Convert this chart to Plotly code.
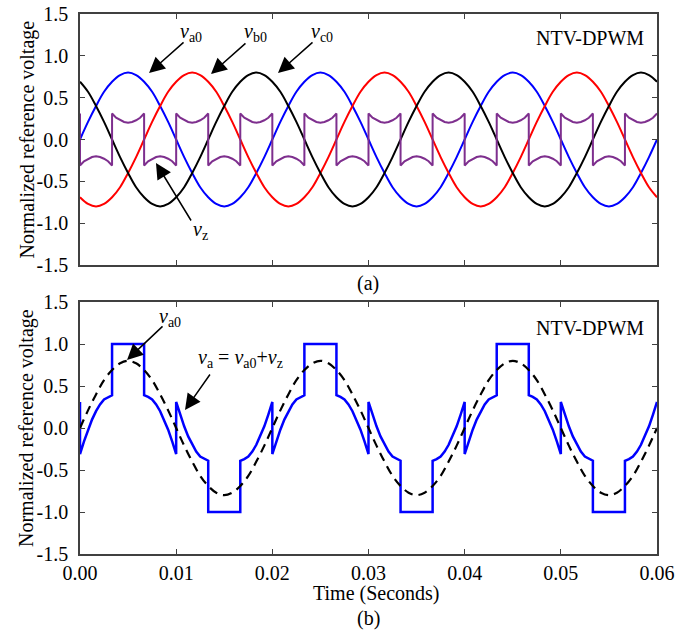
import numpy as np
import plotly.graph_objects as go

# ---------------- data ----------------
# sampling grids (s): sines sampled every 15 deg, clamp segments every 7.5 deg
t_sine = np.linspace(0.0, 0.06, 73)
t_fine = np.linspace(0.0, 0.06, 145)

va0 = [0, 0.21, 0.40, 0.57, 0.69, 0.77, 0.80, 0.77, 0.69, 0.57, 0.40, 0.21,
       0, -0.21, -0.40, -0.57, -0.69, -0.77, -0.80, -0.77, -0.69, -0.57, -0.40, -0.21,
       0, 0.21, 0.40, 0.57, 0.69, 0.77, 0.80, 0.77, 0.69, 0.57, 0.40, 0.21,
       0, -0.21, -0.40, -0.57, -0.69, -0.77, -0.80, -0.77, -0.69, -0.57, -0.40, -0.21,
       0, 0.21, 0.40, 0.57, 0.69, 0.77, 0.80, 0.77, 0.69, 0.57, 0.40, 0.21,
       0, -0.21, -0.40, -0.57, -0.69, -0.77, -0.80, -0.77, -0.69, -0.57, -0.40, -0.21,
       0]
vb0 = [-0.69, -0.77, -0.80, -0.77, -0.69, -0.57, -0.40, -0.21, 0, 0.21, 0.40, 0.57,
       0.69, 0.77, 0.80, 0.77, 0.69, 0.57, 0.40, 0.21, 0, -0.21, -0.40, -0.57,
       -0.69, -0.77, -0.80, -0.77, -0.69, -0.57, -0.40, -0.21, 0, 0.21, 0.40, 0.57,
       0.69, 0.77, 0.80, 0.77, 0.69, 0.57, 0.40, 0.21, 0, -0.21, -0.40, -0.57,
       -0.69, -0.77, -0.80, -0.77, -0.69, -0.57, -0.40, -0.21, 0, 0.21, 0.40, 0.57,
       0.69, 0.77, 0.80, 0.77, 0.69, 0.57, 0.40, 0.21, 0, -0.21, -0.40, -0.57,
       -0.69]
vc0 = [0.69, 0.57, 0.40, 0.21, 0, -0.21, -0.40, -0.57, -0.69, -0.77, -0.80, -0.77,
       -0.69, -0.57, -0.40, -0.21, 0, 0.21, 0.40, 0.57, 0.69, 0.77, 0.80, 0.77,
       0.69, 0.57, 0.40, 0.21, 0, -0.21, -0.40, -0.57, -0.69, -0.77, -0.80, -0.77,
       -0.69, -0.57, -0.40, -0.21, 0, 0.21, 0.40, 0.57, 0.69, 0.77, 0.80, 0.77,
       0.69, 0.57, 0.40, 0.21, 0, -0.21, -0.40, -0.57, -0.69, -0.77, -0.80, -0.77,
       -0.69, -0.57, -0.40, -0.21, 0, 0.21, 0.40, 0.57, 0.69, 0.77, 0.80, 0.77,
       0.69]

# zero-sequence voltage v_z, one list per 60-degree sector (value just before t=0 first)
vz_before = 0.31
vz_sectors = [
    [-0.31, -0.26, -0.23, -0.21, -0.20, -0.21, -0.23, -0.26, -0.31],
    [0.31, 0.26, 0.23, 0.21, 0.20, 0.21, 0.23, 0.26, 0.31],
    [-0.31, -0.26, -0.23, -0.21, -0.20, -0.21, -0.23, -0.26, -0.31],
    [0.31, 0.26, 0.23, 0.21, 0.20, 0.21, 0.23, 0.26, 0.31],
    [-0.31, -0.26, -0.23, -0.21, -0.20, -0.21, -0.23, -0.26, -0.31],
    [0.31, 0.26, 0.23, 0.21, 0.20, 0.21, 0.23, 0.26, 0.31],
    [-0.31, -0.26, -0.23, -0.21, -0.20, -0.21, -0.23, -0.26, -0.31],
    [0.31, 0.26, 0.23, 0.21, 0.20, 0.21, 0.23, 0.26, 0.31],
    [-0.31, -0.26, -0.23, -0.21, -0.20, -0.21, -0.23, -0.26, -0.31],
    [0.31, 0.26, 0.23, 0.21, 0.20, 0.21, 0.23, 0.26, 0.31],
    [-0.31, -0.26, -0.23, -0.21, -0.20, -0.21, -0.23, -0.26, -0.31],
    [0.31, 0.26, 0.23, 0.21, 0.20, 0.21, 0.23, 0.26, 0.31],
    [-0.31, -0.26, -0.23, -0.21, -0.20, -0.21, -0.23, -0.26, -0.31],
    [0.31, 0.26, 0.23, 0.21, 0.20, 0.21, 0.23, 0.26, 0.31],
    [-0.31, -0.26, -0.23, -0.21, -0.20, -0.21, -0.23, -0.26, -0.31],
    [0.31, 0.26, 0.23, 0.21, 0.20, 0.21, 0.23, 0.26, 0.31],
    [-0.31, -0.26, -0.23, -0.21, -0.20, -0.21, -0.23, -0.26, -0.31],
    [0.31, 0.26, 0.23, 0.21, 0.20, 0.21, 0.23, 0.26, 0.31],
]

# modulating wave v_a = v_a0 + v_z, one list per 60-degree sector
va_before = 0.31
va_sectors = [
    [-0.31, -0.16, -0.02, 0.10, 0.20, 0.28, 0.34, 0.37, 0.39],
    [1.0, 1.0, 1.0, 1.0, 1.0, 1.0, 1.0, 1.0, 1.0],
    [0.39, 0.37, 0.34, 0.28, 0.20, 0.10, -0.02, -0.16, -0.31],
    [0.31, 0.16, 0.02, -0.10, -0.20, -0.28, -0.34, -0.37, -0.39],
    [-1.0, -1.0, -1.0, -1.0, -1.0, -1.0, -1.0, -1.0, -1.0],
    [-0.39, -0.37, -0.34, -0.28, -0.20, -0.10, 0.02, 0.16, 0.31],
    [-0.31, -0.16, -0.02, 0.10, 0.20, 0.28, 0.34, 0.37, 0.39],
    [1.0, 1.0, 1.0, 1.0, 1.0, 1.0, 1.0, 1.0, 1.0],
    [0.39, 0.37, 0.34, 0.28, 0.20, 0.10, -0.02, -0.16, -0.31],
    [0.31, 0.16, 0.02, -0.10, -0.20, -0.28, -0.34, -0.37, -0.39],
    [-1.0, -1.0, -1.0, -1.0, -1.0, -1.0, -1.0, -1.0, -1.0],
    [-0.39, -0.37, -0.34, -0.28, -0.20, -0.10, 0.02, 0.16, 0.31],
    [-0.31, -0.16, -0.02, 0.10, 0.20, 0.28, 0.34, 0.37, 0.39],
    [1.0, 1.0, 1.0, 1.0, 1.0, 1.0, 1.0, 1.0, 1.0],
    [0.39, 0.37, 0.34, 0.28, 0.20, 0.10, -0.02, -0.16, -0.31],
    [0.31, 0.16, 0.02, -0.10, -0.20, -0.28, -0.34, -0.37, -0.39],
    [-1.0, -1.0, -1.0, -1.0, -1.0, -1.0, -1.0, -1.0, -1.0],
    [-0.39, -0.37, -0.34, -0.28, -0.20, -0.10, 0.02, 0.16, 0.31],
]

x_ticks = [0.00, 0.01, 0.02, 0.03, 0.04, 0.05, 0.06]
x_ticktext = ["0.00", "0.01", "0.02", "0.03", "0.04", "0.05", "0.06"]
y_ticks = [-1.5, -1.0, -0.5, 0.0, 0.5, 1.0, 1.5]
y_ticktext = ["-1.5", "-1.0", "-0.5", "0.0", "0.5", "1.0", "1.5"]


def build_piecewise(before, sectors, grid):
    xs, ys = [grid[0]], [before]
    for k, seg in enumerate(sectors):
        xs.extend(grid[8 * k: 8 * k + 9])
        ys.extend(seg)
    return xs, ys


vz_x, vz_y = build_piecewise(vz_before, vz_sectors, t_fine)
va_x, va_y = build_piecewise(va_before, va_sectors, t_fine)

FONT = "Liberation Serif"
FS = 20
BLUE, RED, BLACK, PURPLE = "#0000FF", "#FF0000", "#000000", "#7E2F8E"

fig = go.Figure()
fig.add_trace(go.Scatter(x=t_sine, y=va0, mode="lines", line=dict(color=BLUE, width=2, shape="spline"), xaxis="x", yaxis="y"))
fig.add_trace(go.Scatter(x=t_sine, y=vb0, mode="lines", line=dict(color=RED, width=2, shape="spline"), xaxis="x", yaxis="y"))
fig.add_trace(go.Scatter(x=t_sine, y=vc0, mode="lines", line=dict(color=BLACK, width=2, shape="spline"), xaxis="x", yaxis="y"))
fig.add_trace(go.Scatter(x=vz_x, y=vz_y, mode="lines", line=dict(color=PURPLE, width=2), xaxis="x", yaxis="y"))

fig.add_trace(go.Scatter(x=va_x, y=va_y, mode="lines", line=dict(color=BLUE, width=2.5), xaxis="x2", yaxis="y2"))
fig.add_trace(go.Scatter(x=t_sine, y=va0, mode="lines", line=dict(color=BLACK, width=2.2, dash="9px,6px", shape="spline"), xaxis="x2", yaxis="y2"))

FRAME = "#404040"
common_x = dict(range=[0, 0.06], showgrid=False, zeroline=False, showline=True, linecolor=FRAME,
                linewidth=1.5, mirror="ticks", ticks="inside", ticklen=5, tickwidth=1, tickcolor=FRAME,
                tickvals=x_ticks, ticktext=x_ticktext, tickfont=dict(family=FONT, size=FS, color="black"),
                automargin=False)
common_y = dict(range=[-1.5, 1.5], showgrid=False, zeroline=False, showline=True, linecolor=FRAME,
                linewidth=1.5, mirror="ticks", ticks="inside", ticklen=5, tickwidth=1, tickcolor=FRAME,
                tickvals=y_ticks, ticktext=y_ticktext, tickfont=dict(family=FONT, size=FS, color="black"),
                ticklabelstandoff=6, automargin=False)

H = 633.0
fig.update_layout(
    width=692, height=633,
    margin=dict(l=80, r=35, t=0, b=0),
    paper_bgcolor="white", plot_bgcolor="white",
    showlegend=False,
    font=dict(family=FONT, size=FS, color="black"),
    xaxis=dict(common_x, domain=[0, 1], anchor="y", showticklabels=False),
    yaxis=dict(common_y, domain=[(H - 265) / H, (H - 14) / H], anchor="x"),
    xaxis2=dict(common_x, domain=[0, 1], anchor="y2"),
    yaxis2=dict(common_y, domain=[(H - 554) / H, (H - 302) / H], anchor="x2"),
)

ann = []
tf = dict(family=FONT, size=FS, color="black")


def arrow(xr, yr, x, y, ax, ay):
    ann.append(dict(xref=xr, yref=yr, x=x, y=y, ax=ax, ay=ay, text="", showarrow=True,
                    arrowhead=2, arrowsize=2.1, arrowwidth=1.5, arrowcolor="black"))


def label(xr, yr, x, y, text, xanchor="center"):
    ann.append(dict(xref=xr, yref=yr, x=x, y=y, text=text, showarrow=False, font=tf,
                    xanchor=xanchor, yanchor="middle"))


# panel (a)
label("x", "y", 0.01154, 1.273, "<i>v</i><sub>a0</sub>")
label("x", "y", 0.0182, 1.273, "<i>v</i><sub>b0</sub>")
label("x", "y", 0.02516, 1.273, "<i>v</i><sub>c0</sub>")
label("x", "y", 0.01248, -1.082, "<i>v</i><sub>z</sub>")
label("x", "y", 0.05886, 1.213, "NTV-DPWM", xanchor="right")
arrow("x", "y", 0.00718, 0.795, 36, -32)
arrow("x", "y", 0.01362, 0.783, 36, -32)
arrow("x", "y", 0.02059, 0.795, 36, -32)
arrow("x", "y", 0.0079, -0.281, 36, 59)

# panel (b)
label("x2", "y2", 0.00936, 1.321, "<i>v</i><sub>a0</sub>")
label("x2", "y2", 0.01674, 0.833, "<i>v</i><sub>a</sub> = <i>v</i><sub>a0</sub>+<i>v</i><sub>z</sub>")
label("x2", "y2", 0.05886, 1.19, "NTV-DPWM", xanchor="right")
arrow("x2", "y2", 0.00489, 0.810, 37, -35)
arrow("x2", "y2", 0.01092, 0.214, 26, -37)


# axis titles and captions (paper coordinates)
def paper_text(px, py, text, angle=0):
    ann.append(dict(xref="paper", yref="paper", x=(px - 80) / 577.0, y=(H - py) / H, text=text,
                    showarrow=False, font=tf, xanchor="center", yanchor="middle", textangle=angle))


paper_text(27, 139.5, "Normalized reference voltage", -90)
paper_text(27, 428, "Normalized reference voltage", -90)
paper_text(368, 283, "(a)")
paper_text(376, 593, "Time (Seconds)")
paper_text(368, 618, "(b)")

fig.update_layout(annotations=ann)
fig.write_html("out.html", config={"displayModeBar": False},
               post_script="document.body.style.margin='0';document.body.style.overflow='hidden';")
